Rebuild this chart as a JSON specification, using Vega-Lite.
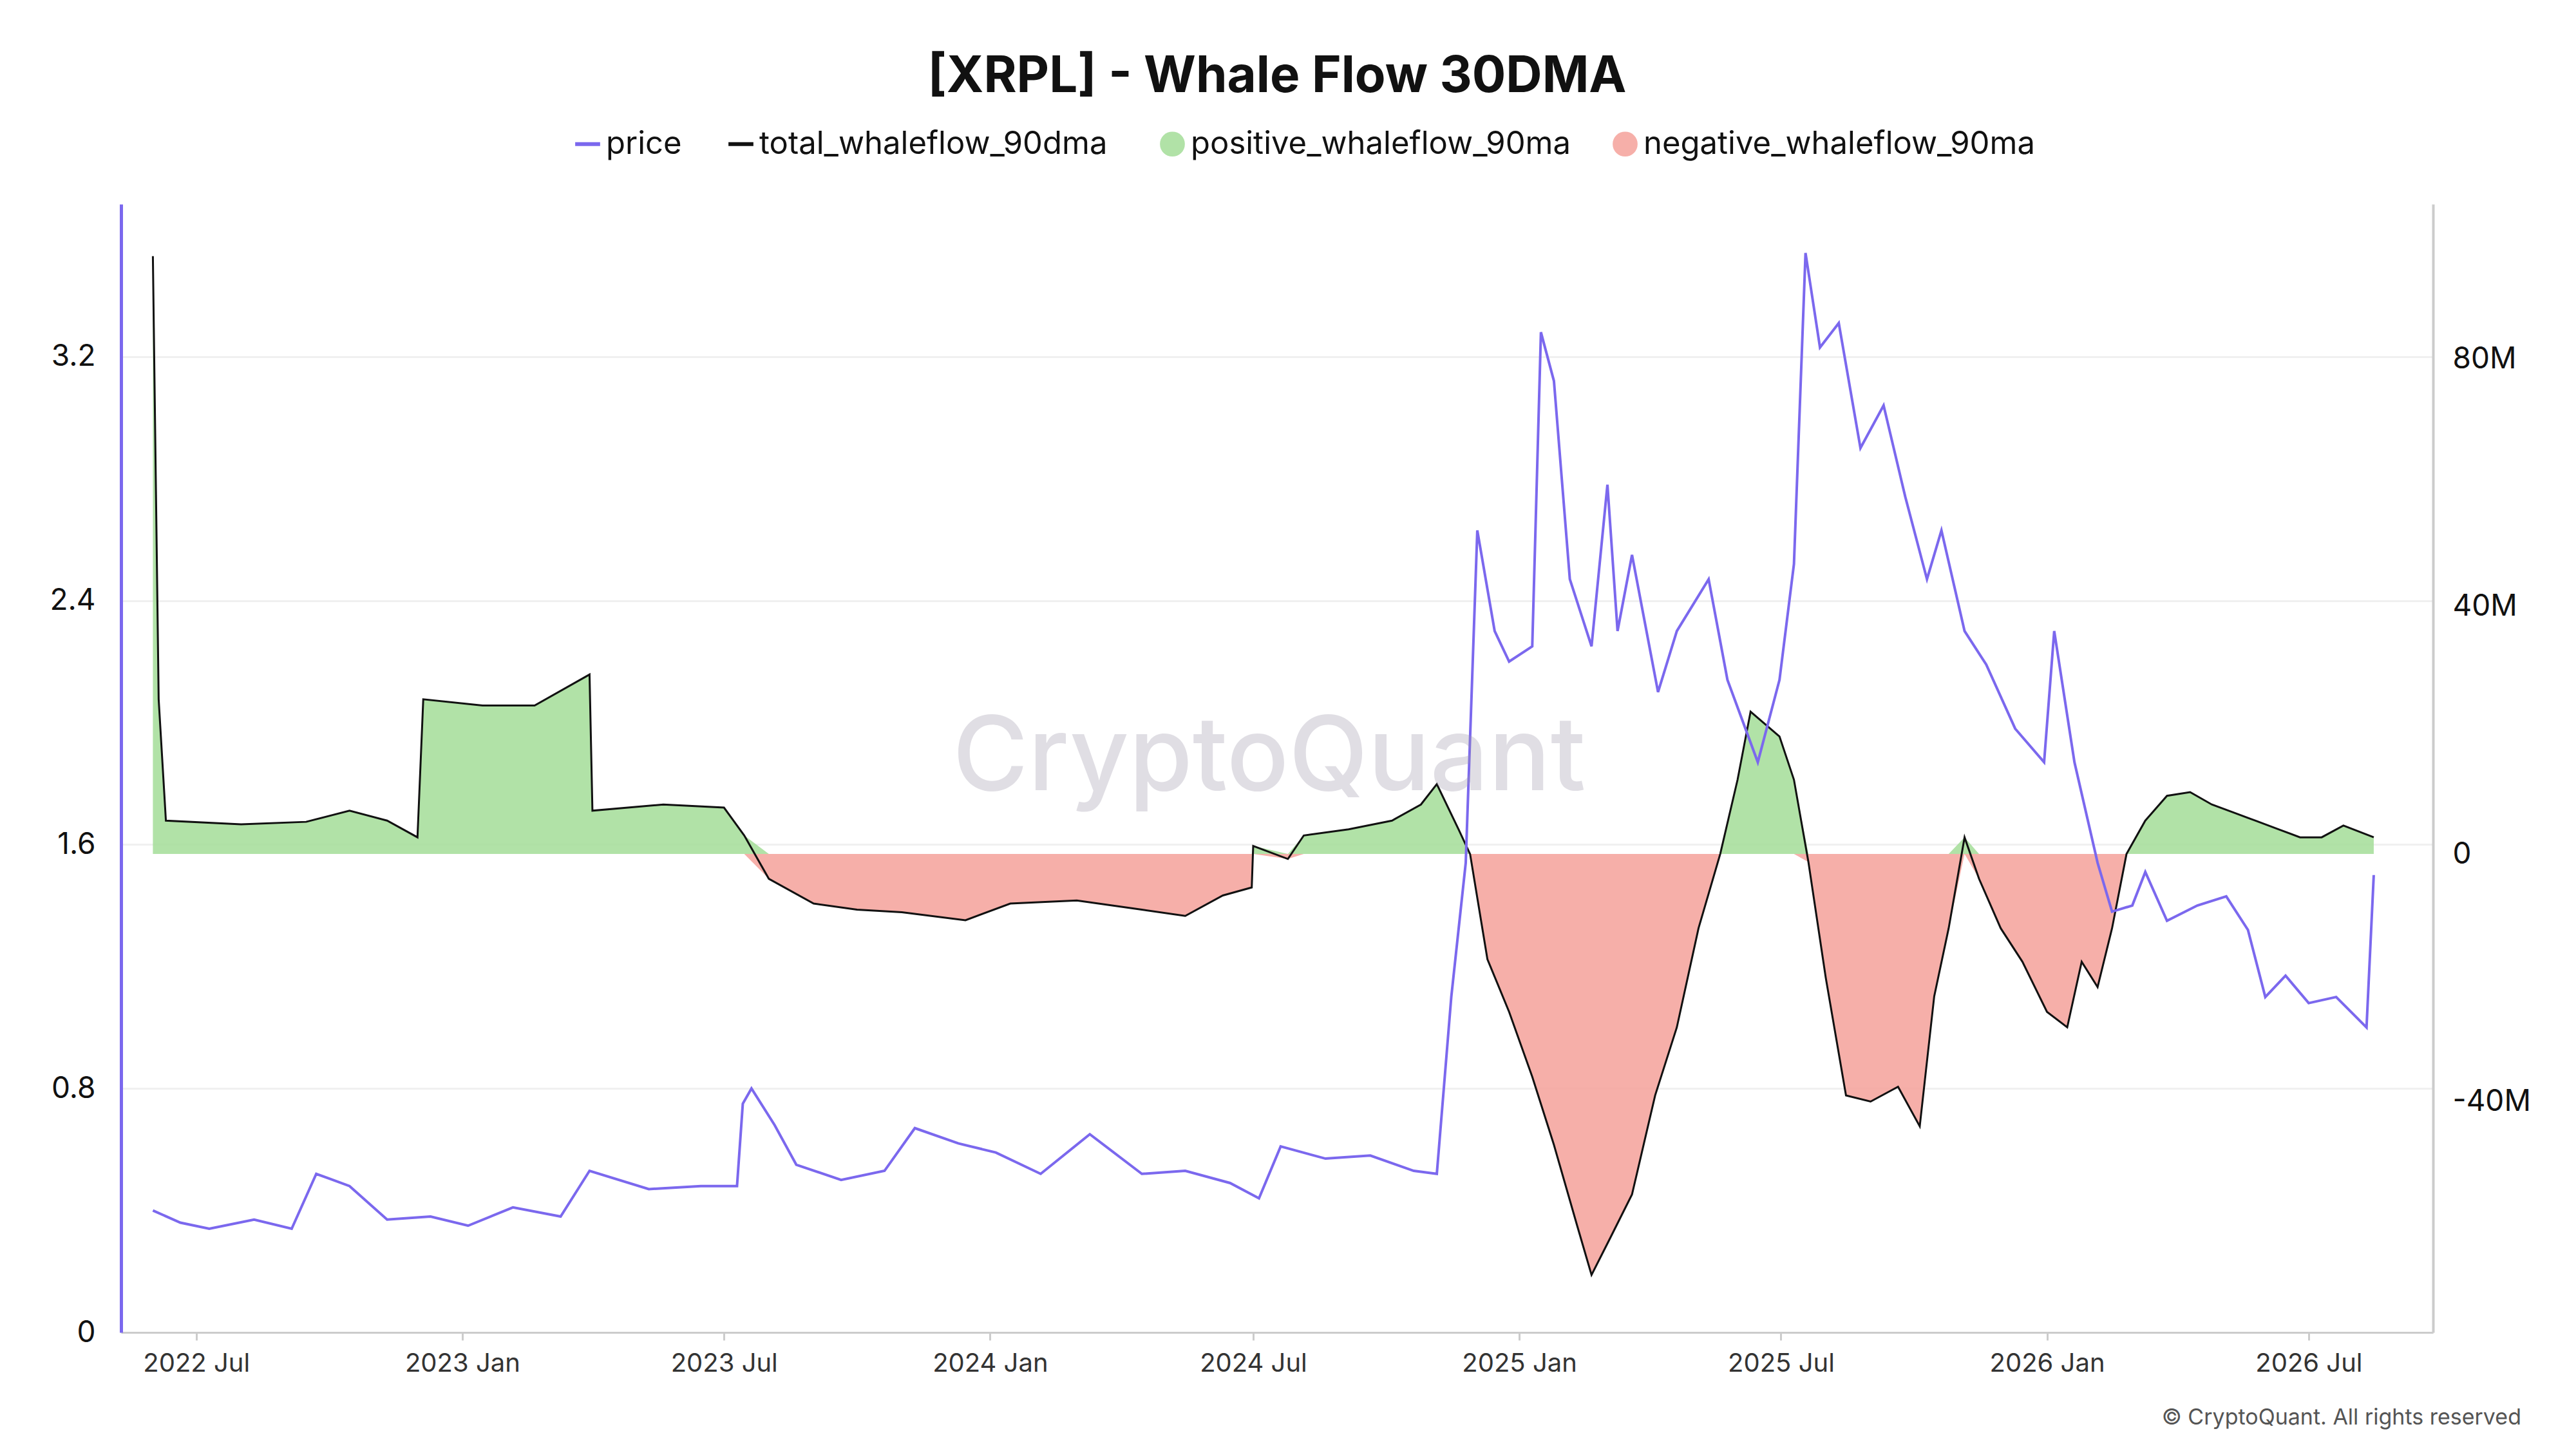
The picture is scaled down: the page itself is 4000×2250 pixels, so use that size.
{
  "$schema": "https://vega.github.io/schema/vega-lite/v6.json",
  "width": 3590,
  "height": 1752,
  "autosize": "none",
  "padding": {"left": 188, "top": 317, "right": 222, "bottom": 181},
  "background": "white",
  "config": {"view": {"stroke": null}, "font": "Inter"},
  "title": {"text": "[XRPL] - Whale Flow 30DMA", "fontSize": 78, "fontWeight": "bold", "color": "#111", "offset": 40},
  "datasets": {
    "price": [
      {"date": "2022-06-01", "price": 0.40}, {"date": "2022-06-20", "price": 0.36}, {"date": "2022-07-10", "price": 0.34},
      {"date": "2022-08-10", "price": 0.37}, {"date": "2022-09-05", "price": 0.34}, {"date": "2022-09-22", "price": 0.52},
      {"date": "2022-10-15", "price": 0.48}, {"date": "2022-11-10", "price": 0.37}, {"date": "2022-12-10", "price": 0.38},
      {"date": "2023-01-05", "price": 0.35}, {"date": "2023-02-05", "price": 0.41}, {"date": "2023-03-10", "price": 0.38},
      {"date": "2023-03-30", "price": 0.53}, {"date": "2023-05-10", "price": 0.47}, {"date": "2023-06-15", "price": 0.48},
      {"date": "2023-07-10", "price": 0.48}, {"date": "2023-07-14", "price": 0.75}, {"date": "2023-07-20", "price": 0.80},
      {"date": "2023-08-05", "price": 0.68}, {"date": "2023-08-20", "price": 0.55}, {"date": "2023-09-20", "price": 0.50},
      {"date": "2023-10-20", "price": 0.53}, {"date": "2023-11-10", "price": 0.67}, {"date": "2023-12-10", "price": 0.62},
      {"date": "2024-01-05", "price": 0.59}, {"date": "2024-02-05", "price": 0.52}, {"date": "2024-03-10", "price": 0.65},
      {"date": "2024-04-15", "price": 0.52}, {"date": "2024-05-15", "price": 0.53}, {"date": "2024-06-15", "price": 0.49},
      {"date": "2024-07-05", "price": 0.44}, {"date": "2024-07-20", "price": 0.61}, {"date": "2024-08-20", "price": 0.57},
      {"date": "2024-09-20", "price": 0.58}, {"date": "2024-10-20", "price": 0.53}, {"date": "2024-11-05", "price": 0.52},
      {"date": "2024-11-15", "price": 1.10}, {"date": "2024-11-25", "price": 1.54}, {"date": "2024-12-03", "price": 2.63},
      {"date": "2024-12-15", "price": 2.30}, {"date": "2024-12-25", "price": 2.20}, {"date": "2025-01-10", "price": 2.25},
      {"date": "2025-01-16", "price": 3.28}, {"date": "2025-01-25", "price": 3.12}, {"date": "2025-02-05", "price": 2.47},
      {"date": "2025-02-20", "price": 2.25}, {"date": "2025-03-03", "price": 2.78}, {"date": "2025-03-10", "price": 2.30},
      {"date": "2025-03-20", "price": 2.55}, {"date": "2025-04-07", "price": 2.10}, {"date": "2025-04-20", "price": 2.30},
      {"date": "2025-05-12", "price": 2.47}, {"date": "2025-05-25", "price": 2.14}, {"date": "2025-06-15", "price": 1.87},
      {"date": "2025-06-30", "price": 2.14}, {"date": "2025-07-10", "price": 2.52}, {"date": "2025-07-18", "price": 3.54},
      {"date": "2025-07-28", "price": 3.23}, {"date": "2025-08-10", "price": 3.31}, {"date": "2025-08-25", "price": 2.90},
      {"date": "2025-09-10", "price": 3.04}, {"date": "2025-09-25", "price": 2.74}, {"date": "2025-10-10", "price": 2.47},
      {"date": "2025-10-20", "price": 2.63}, {"date": "2025-11-05", "price": 2.30}, {"date": "2025-11-20", "price": 2.19},
      {"date": "2025-12-10", "price": 1.98}, {"date": "2025-12-30", "price": 1.87}, {"date": "2026-01-06", "price": 2.30},
      {"date": "2026-01-20", "price": 1.87}, {"date": "2026-02-05", "price": 1.54}, {"date": "2026-02-15", "price": 1.38},
      {"date": "2026-03-01", "price": 1.40}, {"date": "2026-03-10", "price": 1.51}, {"date": "2026-03-25", "price": 1.35},
      {"date": "2026-04-15", "price": 1.40}, {"date": "2026-05-05", "price": 1.43}, {"date": "2026-05-20", "price": 1.32},
      {"date": "2026-06-01", "price": 1.10}, {"date": "2026-06-15", "price": 1.17}, {"date": "2026-07-01", "price": 1.08},
      {"date": "2026-07-20", "price": 1.10}, {"date": "2026-08-10", "price": 1.00}, {"date": "2026-08-15", "price": 1.50}
    ],
    "flow": [
      {"date": "2022-06-01", "flow": 96.6}, {"date": "2022-06-05", "flow": 25}, {"date": "2022-06-10", "flow": 5.4},
      {"date": "2022-08-01", "flow": 4.8}, {"date": "2022-09-15", "flow": 5.2}, {"date": "2022-10-15", "flow": 7},
      {"date": "2022-11-10", "flow": 5.4}, {"date": "2022-12-01", "flow": 2.7}, {"date": "2022-12-05", "flow": 25},
      {"date": "2023-01-15", "flow": 24}, {"date": "2023-02-20", "flow": 24}, {"date": "2023-03-30", "flow": 29},
      {"date": "2023-04-01", "flow": 7}, {"date": "2023-05-20", "flow": 8}, {"date": "2023-07-01", "flow": 7.5},
      {"date": "2023-07-15", "flow": 3}, {"date": "2023-08-01", "flow": -4}, {"date": "2023-09-01", "flow": -8},
      {"date": "2023-10-01", "flow": -9}, {"date": "2023-11-01", "flow": -9.4}, {"date": "2023-12-15", "flow": -10.7},
      {"date": "2024-01-15", "flow": -8}, {"date": "2024-03-01", "flow": -7.5}, {"date": "2024-04-15", "flow": -9},
      {"date": "2024-05-15", "flow": -10}, {"date": "2024-06-10", "flow": -6.7}, {"date": "2024-06-30", "flow": -5.4},
      {"date": "2024-07-01", "flow": 1.3}, {"date": "2024-07-25", "flow": -0.8}, {"date": "2024-08-05", "flow": 3},
      {"date": "2024-09-05", "flow": 4}, {"date": "2024-10-05", "flow": 5.4}, {"date": "2024-10-25", "flow": 8},
      {"date": "2024-11-05", "flow": 11.3}, {"date": "2024-11-20", "flow": 4}, {"date": "2024-11-28", "flow": 0},
      {"date": "2024-12-10", "flow": -17}, {"date": "2024-12-25", "flow": -25.5}, {"date": "2025-01-10", "flow": -36},
      {"date": "2025-01-25", "flow": -47}, {"date": "2025-02-10", "flow": -60}, {"date": "2025-02-20", "flow": -68},
      {"date": "2025-03-05", "flow": -62}, {"date": "2025-03-20", "flow": -55}, {"date": "2025-04-05", "flow": -39},
      {"date": "2025-04-20", "flow": -28}, {"date": "2025-05-05", "flow": -12}, {"date": "2025-05-20", "flow": 0},
      {"date": "2025-06-01", "flow": 12}, {"date": "2025-06-10", "flow": 23}, {"date": "2025-06-30", "flow": 19},
      {"date": "2025-07-10", "flow": 12}, {"date": "2025-07-20", "flow": -1.3}, {"date": "2025-08-01", "flow": -20},
      {"date": "2025-08-15", "flow": -39}, {"date": "2025-09-01", "flow": -40}, {"date": "2025-09-20", "flow": -37.6},
      {"date": "2025-10-05", "flow": -44}, {"date": "2025-10-15", "flow": -23}, {"date": "2025-10-25", "flow": -12},
      {"date": "2025-11-05", "flow": 2.7}, {"date": "2025-11-15", "flow": -4}, {"date": "2025-11-30", "flow": -12},
      {"date": "2025-12-15", "flow": -17.4}, {"date": "2026-01-01", "flow": -25.5}, {"date": "2026-01-15", "flow": -28},
      {"date": "2026-01-25", "flow": -17.4}, {"date": "2026-02-05", "flow": -21.5}, {"date": "2026-02-15", "flow": -12},
      {"date": "2026-02-25", "flow": 0}, {"date": "2026-03-10", "flow": 5.4}, {"date": "2026-03-25", "flow": 9.4},
      {"date": "2026-04-10", "flow": 10}, {"date": "2026-04-25", "flow": 8}, {"date": "2026-05-10", "flow": 6.7},
      {"date": "2026-05-25", "flow": 5.4}, {"date": "2026-06-10", "flow": 4}, {"date": "2026-06-25", "flow": 2.7},
      {"date": "2026-07-10", "flow": 2.7}, {"date": "2026-07-25", "flow": 4.6}, {"date": "2026-08-15", "flow": 2.7}
    ]
  },
  "encoding": {
    "x": {
      "field": "date", "type": "temporal",
      "scale": {"domain": ["2022-05-10", "2026-09-25"]},
      "axis": {
        "title": null, "format": "%Y %b", "labelFontSize": 40, "labelColor": "#333", "labelPadding": 16,
        "values": ["2022-07-01", "2023-01-01", "2023-07-01", "2024-01-01", "2024-07-01", "2025-01-01", "2025-07-01", "2026-01-01", "2026-07-01"],
        "grid": false, "domainColor": "#ccc", "domainWidth": 3, "tickColor": "#ccc", "tickSize": 12, "tickWidth": 3
      }
    }
  },
  "layer": [
    {
      "data": {"name": "price"},
      "mark": {"type": "line", "strokeWidth": 4, "opacity": 0},
      "encoding": {
        "y": {"field": "price", "type": "quantitative", "scale": {"domain": [0, 3.7]},
          "axis": {"orient": "left", "title": null, "values": [0, 0.8, 1.6, 2.4, 3.2], "labelExpr": "datum.value == 0 ? '0' : format(datum.value, '.1f')", "labelFontSize": 46, "labelColor": "#111", "labelPadding": 40, "ticks": false,
            "grid": true, "gridColor": "#f0f0f0", "gridWidth": 3, "domainColor": "#7b68ee", "domainWidth": 5}},
        "color": {"datum": "price", "scale": {"domain": ["price", "total_whaleflow_90dma"], "range": ["#7b68ee", "#111111"]},
          "legend": {"title": null, "orient": "none", "legendX": 700, "legendY": -118, "direction": "horizontal", "symbolType": "stroke", "symbolStrokeWidth": 6, "symbolSize": 1500, "labelFontSize": 49, "labelColor": "#111", "labelLimit": 0, "columnPadding": 60}}
      }
    },
    {
      "data": {"name": "flow"},
      "transform": [{"calculate": "max(datum.flow, 0)", "as": "pos"}],
      "mark": {"type": "area", "opacity": 0.85},
      "encoding": {
        "y": {"field": "pos", "type": "quantitative", "scale": {"domain": [-77.3, 105]}, "axis": null},
        "y2": {"datum": 0},
        "fill": {"datum": "positive_whaleflow_90ma", "scale": {"domain": ["positive_whaleflow_90ma", "negative_whaleflow_90ma"], "range": ["#a3dd98", "#f4a19a"]},
          "legend": {"title": null, "orient": "none", "legendX": 1608, "legendY": -118, "direction": "horizontal", "symbolType": "circle", "symbolSize": 1500, "symbolOpacity": 1, "labelFontSize": 49, "labelColor": "#111", "labelLimit": 0, "columnPadding": 60}}
      }
    },
    {
      "data": {"name": "flow"},
      "transform": [{"calculate": "min(datum.flow, 0)", "as": "neg"}],
      "mark": {"type": "area", "opacity": 0.85},
      "encoding": {
        "y": {"field": "neg", "type": "quantitative", "scale": {"domain": [-77.3, 105]}, "axis": null},
        "y2": {"datum": 0},
        "fill": {"datum": "negative_whaleflow_90ma"}
      }
    },
    {
      "data": {"name": "flow"},
      "mark": {"type": "line", "strokeWidth": 3},
      "encoding": {
        "y": {"field": "flow", "type": "quantitative", "scale": {"domain": [-77.3, 105]},
          "axis": {"orient": "right", "title": null, "values": [-40, 0, 40, 80], "labelExpr": "datum.value == 0 ? '0' : datum.value + 'M'", "labelFontSize": 46, "labelColor": "#111", "labelPadding": 30, "grid": false, "ticks": false, "domainColor": "#ccc", "domainWidth": 4}},
        "color": {"datum": "total_whaleflow_90dma"}
      }
    },
    {
      "data": {"name": "price"},
      "mark": {"type": "line", "strokeWidth": 4},
      "encoding": {
        "y": {"field": "price", "type": "quantitative", "scale": {"domain": [0, 3.7]}, "axis": null},
        "color": {"datum": "price"}
      }
    },
    {
      "data": {"values": [{"date": "2024-07-12", "v": 1.88}]},
      "mark": {"type": "text", "text": "CryptoQuant", "fontSize": 160, "fontWeight": 500, "color": "#9a94a8", "opacity": 0.3},
      "encoding": {"y": {"field": "v", "type": "quantitative", "scale": {"domain": [0, 3.7]}, "axis": null}}
    },
    {
      "data": {"values": [{"date": "2026-11-25", "v": -0.28}]},
      "mark": {"type": "text", "text": "© CryptoQuant. All rights reserved", "fontSize": 34, "color": "#555", "align": "right", "clip": false},
      "encoding": {"y": {"field": "v", "type": "quantitative", "scale": {"domain": [0, 3.7]}, "axis": null}}
    }
  ],
  "resolve": {"scale": {"y": "independent"}}
}
